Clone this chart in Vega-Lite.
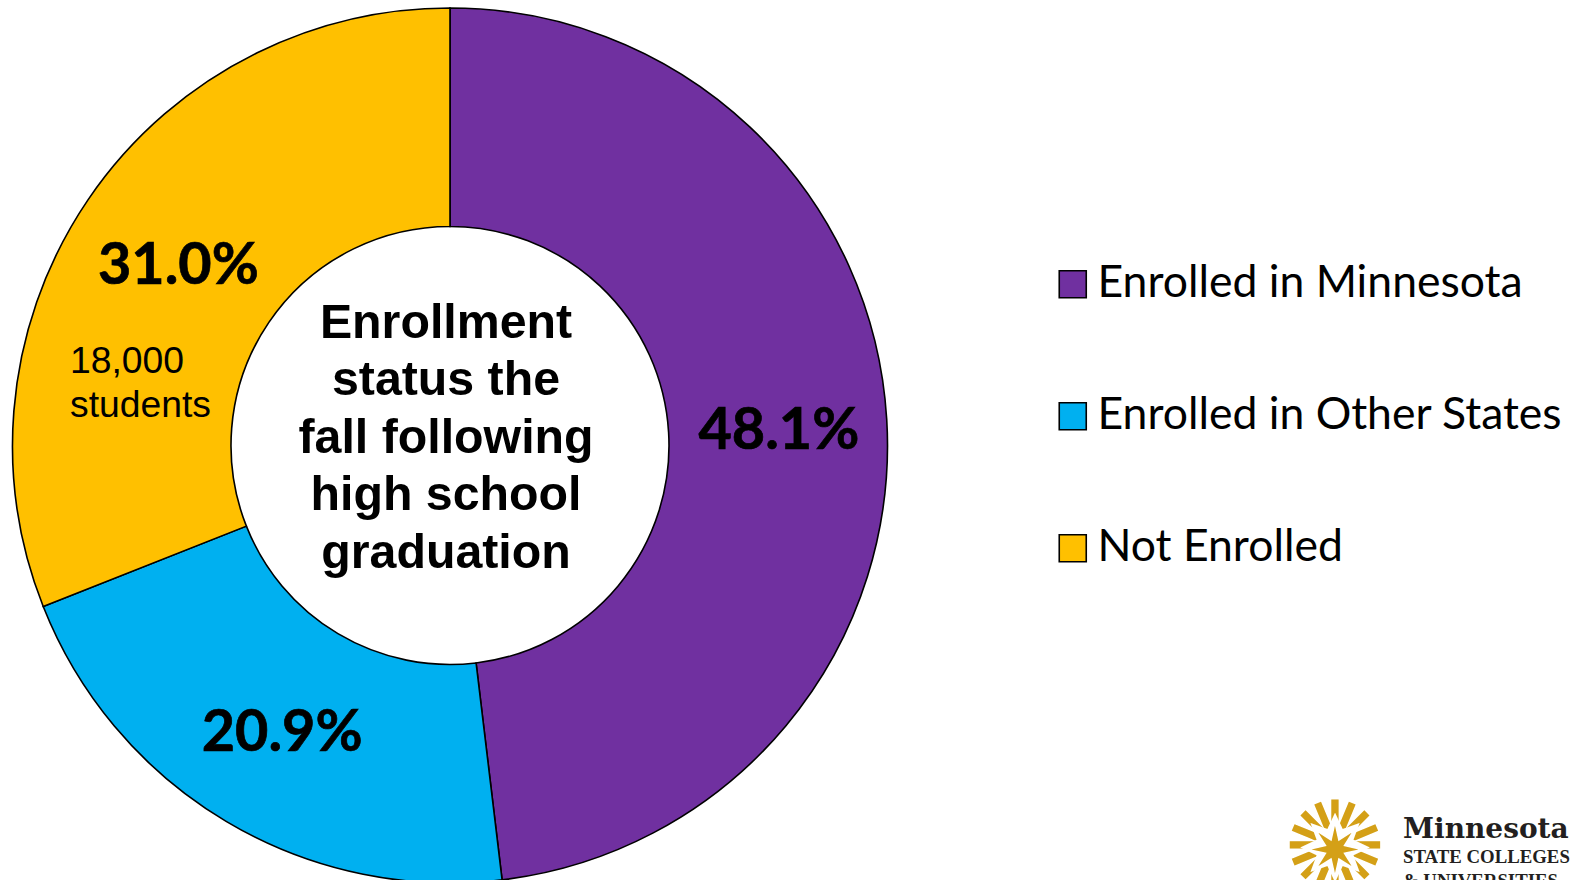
{"$schema":"https://vega.github.io/schema/vega-lite/v6.json","width":900,"height":891,"autosize":"none","padding":{"left":0,"top":0,"right":677,"bottom":-11},"background":"white","view":{"stroke":null},"layer":[{"data":{"name":"shares","values":[{"status":"Enrolled in Minnesota","share":48.1,"rank":1,"label":"48.1%"},{"status":"Enrolled in Other States","share":20.9,"rank":2,"label":"20.9%"},{"status":"Not Enrolled","share":31.0,"rank":3,"label":"31.0%"}]},"mark":{"type":"arc","radius":437.5,"radius2":219,"stroke":"black","strokeWidth":1.6},"encoding":{"theta":{"field":"share","type":"quantitative","stack":true},"order":{"field":"rank"},"color":{"field":"status","type":"nominal","scale":{"domain":["Enrolled in Minnesota","Enrolled in Other States","Not Enrolled"],"range":["#7030A0","#00B0F0","#FFC000"]},"legend":{"title":null,"orient":"none","legendX":1050.5,"legendY":262,"symbolType":"square","symbolSize":729,"symbolStrokeColor":"black","symbolStrokeWidth":1.6,"symbolOpacity":1,"labelFont":"Lato","labelFontSize":44.5,"labelColor":"black","labelOffset":2.5,"labelLimit":600,"rowPadding":87,"padding":0}}}},{"data":{"name":"shares"},"mark":{"type":"text","radius":329,"font":"Lato","fontSize":57.5,"fontWeight":"bold","color":"black","stroke":"black","strokeWidth":0.7,"dy":6,"dx":0.5},"encoding":{"theta":{"field":"share","type":"quantitative","stack":true},"order":{"field":"rank"},"text":{"field":"label"}}},{"data":{"values":[{"caption":["Enrollment","status the","fall following","high school","graduation"]}]},"mark":{"type":"text","font":"Liberation Sans","fontSize":48.3,"fontWeight":"bold","lineHeight":57.6,"align":"center","baseline":"middle","dx":-4,"dy":-122,"color":"black"},"encoding":{"text":{"field":"caption"}}},{"data":{"values":[{"note":["18,000","students"]}]},"mark":{"type":"text","font":"Liberation Sans","fontSize":37.3,"lineHeight":44.5,"align":"left","baseline":"middle","dx":-380,"dy":-84,"color":"black"},"encoding":{"text":{"field":"note"}}},{"data":{"values":[{"glyph":"✺"}]},"mark":{"type":"text","font":"DejaVu Sans","fontSize":124,"align":"center","baseline":"middle","dx":885,"dy":407,"color":"#D4A017"},"encoding":{"text":{"field":"glyph"}}},{"data":{"values":[{"glyph":"✸"}]},"mark":{"type":"text","font":"DejaVu Sans","fontSize":92,"align":"center","baseline":"middle","dx":885,"dy":407,"color":"white"},"encoding":{"text":{"field":"glyph"}}},{"data":{"values":[{"glyph":"✷"}]},"mark":{"type":"text","font":"DejaVu Sans","fontSize":62,"align":"center","baseline":"middle","dx":885,"dy":407,"color":"#D4A017"},"encoding":{"text":{"field":"glyph"}}},{"data":{"values":[{"logo":"Minnesota"}]},"mark":{"type":"text","font":"DejaVu Serif","fontSize":28,"fontWeight":"bold","align":"left","baseline":"alphabetic","dx":953,"dy":392,"color":"#231F20"},"encoding":{"text":{"field":"logo"}}},{"data":{"values":[{"logo":"STATE COLLEGES"}]},"mark":{"type":"text","font":"Liberation Serif","fontSize":18.8,"fontWeight":"bold","align":"left","baseline":"alphabetic","dx":953,"dy":417.5,"color":"#231F20"},"encoding":{"text":{"field":"logo"}}},{"data":{"values":[{"logo":"& UNIVERSITIES"}]},"mark":{"type":"text","font":"Liberation Serif","fontSize":18.8,"fontWeight":"bold","align":"left","baseline":"alphabetic","dx":953,"dy":441,"color":"#231F20"},"encoding":{"text":{"field":"logo"}}}]}
